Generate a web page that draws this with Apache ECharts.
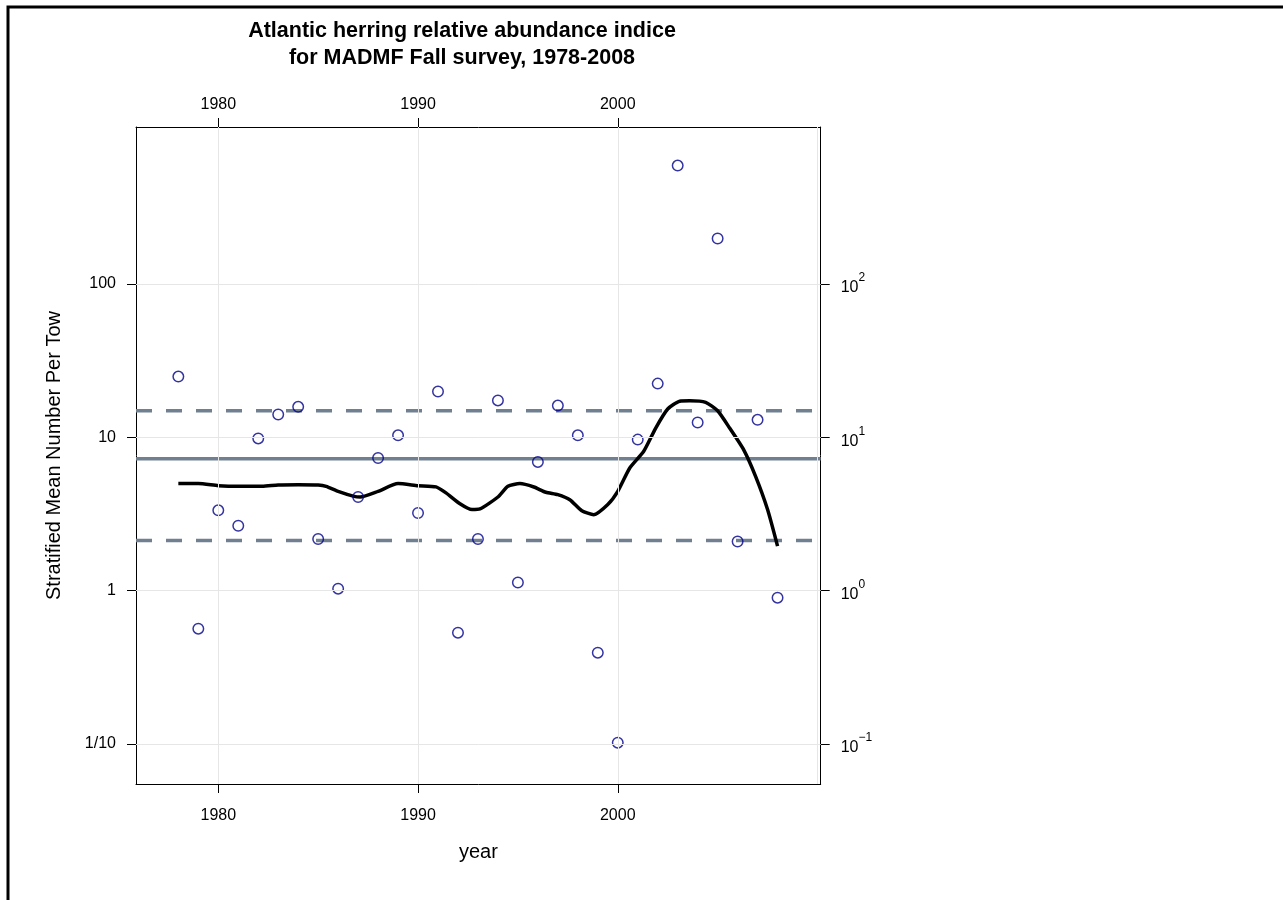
<!DOCTYPE html>
<html>
<head>
<meta charset="utf-8">
<script src="https://cdn.jsdelivr.net/npm/echarts@6/dist/echarts.min.js"></script>
<style>
html,body{margin:0;padding:0;background:#fff;}
#chart{width:1283px;height:900px;}
</style>
</head>
<body>
<div id="chart"></div>
<script>
// ---- data ----
const years = [1978,1979,1980,1981,1982,1983,1984,1985,1986,1987,1988,1989,1990,1991,1992,1993,1994,1995,1996,1997,1998,1999,2000,2001,2002,2003,2004,2005,2006,2007,2008];
const abundance = [24.9,0.565,3.34,2.65,9.84,14.1,15.8,2.17,1.03,4.08,7.33,10.3,3.21,19.9,0.532,2.17,17.4,1.13,6.91,16.1,10.3,0.394,0.102,9.66,22.4,592,12.5,198,2.09,13.0,0.90];
const smoothYears = [1978,1979,1980,1981,1982.2,1983,1984,1985,1985.4,1986,1986.8,1987.1,1988,1989,1990,1990.9,1991.4,1992.1,1992.7,1993.1,1994,1994.5,1995.1,1995.8,1996.4,1997,1997.6,1998.2,1998.8,1999.5,2000,2000.6,2001.3,2001.9,2002.5,2003.1,2003.6,2004.4,2005,2005.6,2006.3,2006.9,2007.5,2008];
const smoothValues = [4.99,4.99,4.84,4.79,4.79,4.89,4.91,4.89,4.79,4.44,4.12,4.08,4.44,4.99,4.84,4.75,4.34,3.69,3.38,3.41,4.08,4.79,4.99,4.74,4.38,4.23,3.92,3.32,3.13,3.64,4.44,6.31,8.11,11.5,15.3,17.2,17.3,16.9,14.9,11.5,8.31,5.56,3.38,1.95];
const meanLevel = 7.26;
const upperLevel = 14.9;
const lowerLevel = 2.12;
const xTicks = [1980,1990,2000];
const xGrid = [1980,1990,2000,2010];
const yTickValues = [0.1,1,10,100];
const yTickLabels = ['1/10','1','10','100'];
const yTickExponents = ['\u22121','0','1','2'];
const xRange = [1975.88, 2010.16];
const yRange = [0.0548, 1057];

// ---- build ----
const L = Math.log10;
const FONT = 'Liberation Sans, Arial, sans-serif';
const yLogTicks = yTickValues.map(L);
function labelFor(v){ return yLogTicks.findIndex(t => Math.abs(t - v) < 1e-6); }

const points = years.map((y,i)=>[y, L(abundance[i])]);
const smooth = smoothYears.map((y,i)=>[y, L(smoothValues[i])]);
function hline(v){ return [[xRange[0], L(v)],[xRange[1], L(v)]]; }

const chart = echarts.init(document.getElementById('chart'), null, {renderer:'canvas'});
const xAxisBase = {
  type:'value', min:xRange[0], max:xRange[1],
  axisLine:{show:true, onZero:false, lineStyle:{color:'#000', width:1}},
  axisTick:{show:true, customValues:xTicks, length:9, inside:false, lineStyle:{color:'#000', width:1}},
  splitLine:{show:false},
  axisLabel:{customValues:xTicks, fontSize:16, color:'#000', fontFamily:FONT, formatter:v=>String(Math.round(v))}
};
const yAxisBase = {
  type:'value', min:L(yRange[0]), max:L(yRange[1]),
  axisLine:{show:true, onZero:false, lineStyle:{color:'#000', width:1}},
  axisTick:{show:true, customValues:yLogTicks, length:9, inside:false, lineStyle:{color:'#000', width:1}},
  splitLine:{show:false}
};

const option = {
  backgroundColor:'#fff',
  animation:false,
  title:{
    text:'Atlantic herring relative abundance indice\nfor MADMF Fall survey, 1978-2008',
    left:457, top:13, textAlign:'center',
    textStyle:{fontSize:21.5, fontWeight:'bold', color:'#000', fontFamily:FONT, lineHeight:27}
  },
  grid:{left:136, top:127, width:684.7, height:657, containLabel:false},
  xAxis:[
    Object.assign({}, xAxisBase, {position:'bottom', name:'year', nameLocation:'middle', nameGap:58,
      nameTextStyle:{fontSize:20, color:'#000', fontFamily:FONT},
      axisLabel:Object.assign({}, xAxisBase.axisLabel, {margin:24})}),
    Object.assign({}, xAxisBase, {position:'top',
      axisLabel:Object.assign({}, xAxisBase.axisLabel, {margin:14})})
  ],
  yAxis:[
    Object.assign({}, yAxisBase, {position:'left', name:'Stratified Mean Number Per Tow', nameLocation:'middle', nameGap:72,
      nameTextStyle:{fontSize:20, color:'#000', fontFamily:FONT},
      axisLabel:{customValues:yLogTicks, margin:20, fontSize:16, color:'#000', fontFamily:FONT,
        formatter:v=>{const i=labelFor(v); return i>=0?yTickLabels[i]:'';}}}),
    Object.assign({}, yAxisBase, {position:'right',
      axisLabel:{customValues:yLogTicks, margin:20, color:'#000', fontFamily:FONT,
        formatter:v=>{const i=labelFor(v); return i>=0?('{b|10}{s|'+yTickExponents[i]+'}'):'';},
        rich:{b:{fontSize:16, color:'#000', fontFamily:FONT, lineHeight:24, verticalAlign:'bottom'},
              s:{fontSize:12, color:'#000', fontFamily:FONT, lineHeight:24, verticalAlign:'top'}}}})
  ],
  graphic:[{type:'rect', shape:{x:8,y:7,width:1400,height:1100}, style:{fill:'none', stroke:'#000', lineWidth:3}, silent:true, z:100}],
  series:[
    {type:'line', name:'grid', data:[], xAxisIndex:0, yAxisIndex:0, z:1, silent:true,
      markLine:{silent:true, symbol:'none', animation:false, label:{show:false},
        lineStyle:{color:'#e6e6e6', width:1, type:'solid'},
        data: xGrid.map(v=>({xAxis:v})).concat(yLogTicks.map(v=>({yAxis:v})))}},
    {type:'line', name:'mean', data:hline(meanLevel), showSymbol:false, z:2, silent:true,
      lineStyle:{color:'#708090', width:3.5, type:'solid'}},
    {type:'line', name:'upper', data:hline(upperLevel), showSymbol:false, z:2, silent:true,
      lineStyle:{color:'#708090', width:3.5, type:[16,14]}},
    {type:'line', name:'lower', data:hline(lowerLevel), showSymbol:false, z:2, silent:true,
      lineStyle:{color:'#708090', width:3.5, type:[16,14]}},
    {type:'line', name:'smooth', data:smooth, showSymbol:false, smooth:0.2, z:3, silent:true,
      lineStyle:{color:'#000', width:3.5}},
    {type:'scatter', name:'index', data:points, symbol:'circle', symbolSize:10.5, z:4,
      itemStyle:{color:'rgba(0,0,0,0)', borderColor:'#00008b', borderWidth:1.5}}
  ]
};
chart.setOption(option);
</script>
</body>
</html>
